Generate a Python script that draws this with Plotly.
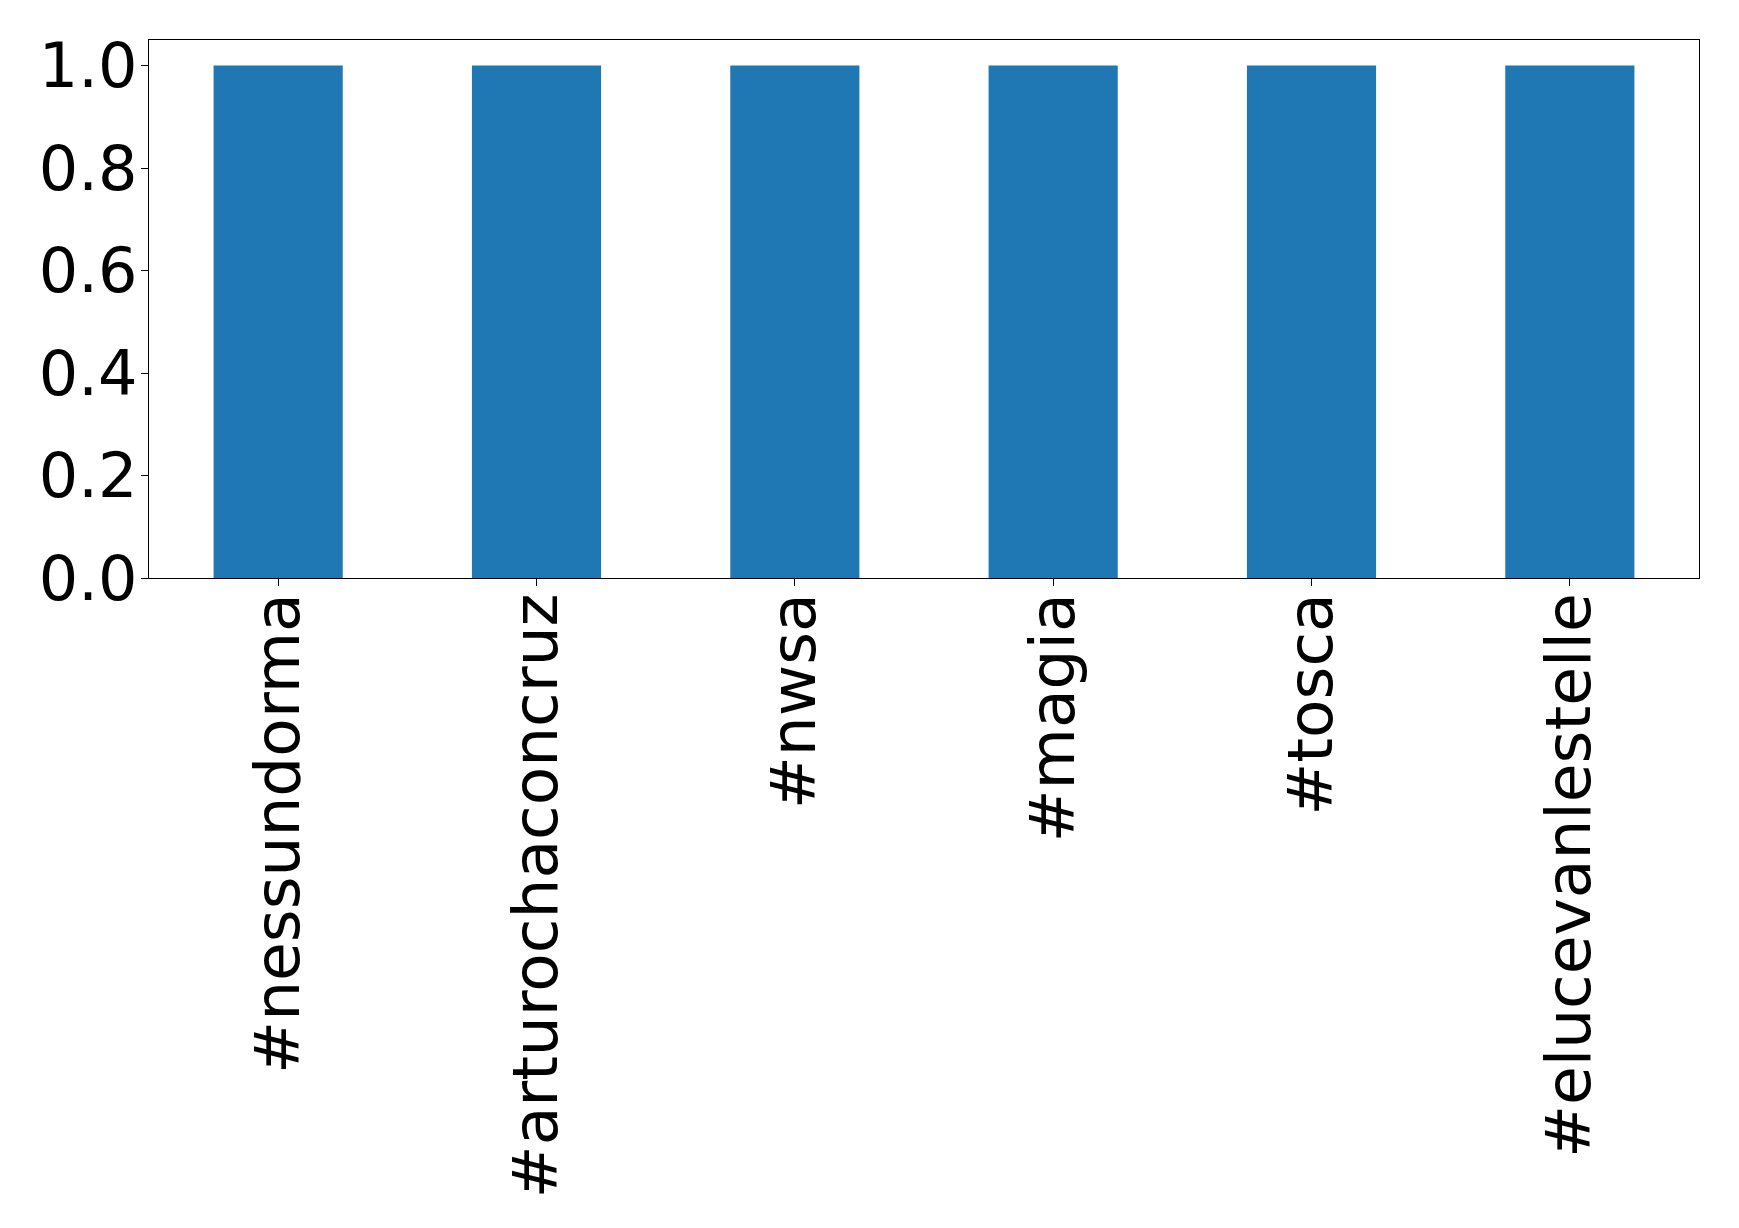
import plotly.graph_objects as go

categories = ["#nessundorma", "#arturochaconcruz", "#nwsa", "#magia", "#tosca", "#elucevanlestelle"]
values = [1, 1, 1, 1, 1, 1]
y_ticks = [0.0, 0.2, 0.4, 0.6, 0.8, 1.0]
y_tick_labels = ["0.0", "0.2", "0.4", "0.6", "0.8", "1.0"]

fig = go.Figure(go.Bar(x=categories, y=values, width=0.5, marker=dict(color="#1f77b4", line=dict(width=0))))

font = dict(family="DejaVu Sans", size=62, color="black")
xfont = dict(family="DejaVu Sans", size=63, color="black")
fig.update_layout(
    width=1739, height=1228,
    margin=dict(l=141, r=48, t=32, b=658, autoexpand=False),
    paper_bgcolor="white", plot_bgcolor="white",
    showlegend=False,
    font=font,
)
fig.update_xaxes(
    type="category", range=[-0.5, 5.5], tickangle=-90,
    showline=True, linecolor="black", linewidth=1.3, mirror=True,
    ticks="outside", ticklen=7, tickcolor="black", tickwidth=1.3,
    showgrid=False, zeroline=False, automargin=False, tickfont=xfont,
    ticklabelstandoff=-18,
)
fig.update_yaxes(
    range=[0, 1.05], tickvals=y_ticks, ticktext=y_tick_labels,
    showline=True, linecolor="black", linewidth=1.3, mirror=True,
    ticks="outside", ticklen=7, tickcolor="black", tickwidth=1.3,
    showgrid=False, zeroline=False, automargin=False, tickfont=font,
    ticklabelstandoff=-9,
)
fig.write_html("out.html")
